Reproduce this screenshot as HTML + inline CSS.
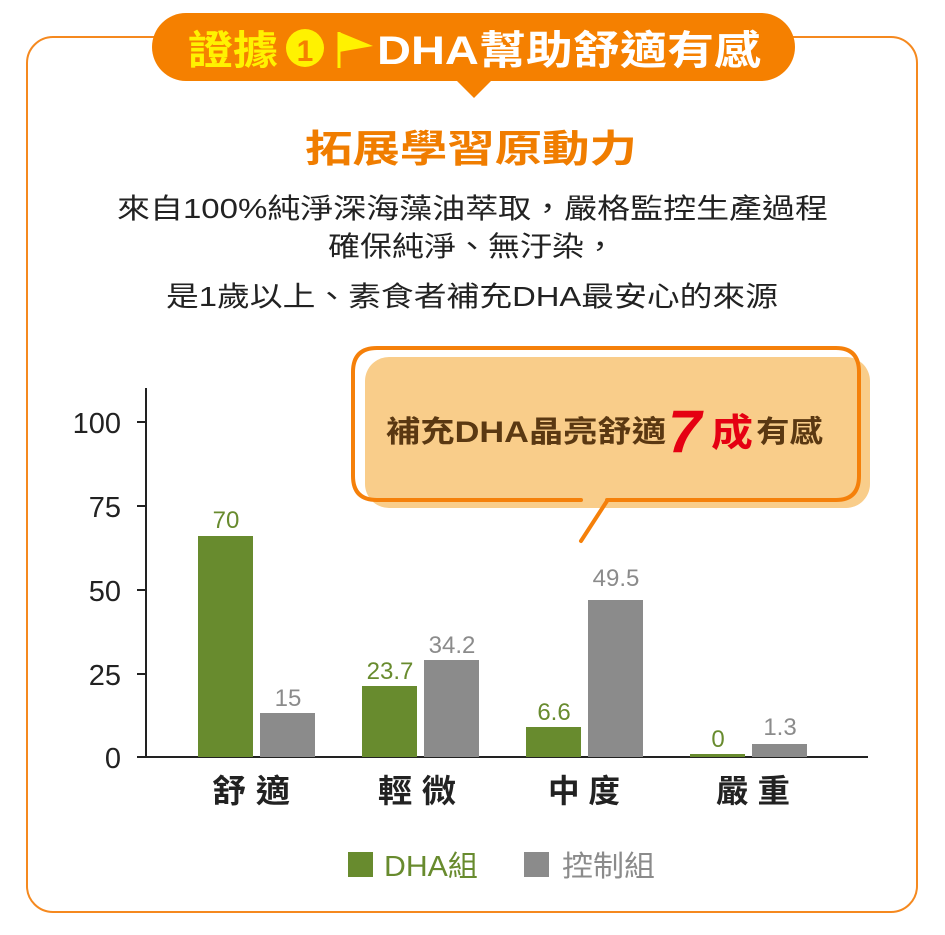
<!DOCTYPE html><html><head><meta charset="utf-8"><style>
body{margin:0;background:#fff}
svg text{font-family:"Liberation Sans","Noto Sans CJK TC",sans-serif}
</style></head><body>
<svg width="945" height="930" viewBox="0 0 945 930" xmlns="http://www.w3.org/2000/svg">
<rect x="27" y="37" width="890" height="875" rx="26" fill="#fff" stroke="#f5891f" stroke-width="2"/>
<rect x="152" y="13" width="643" height="68" rx="34" fill="#f58000"/>
<polygon points="456,80 492,80 474,98" fill="#f58000"/>
<text x="188" y="64" font-size="40" font-weight="bold" fill="#fff200" textLength="90" lengthAdjust="spacingAndGlyphs">證據</text>
<circle cx="305" cy="48" r="19" fill="#fff200"/>
<text x="305" y="61" font-size="30" font-weight="bold" fill="#f58000" text-anchor="middle">1</text>
<line x1="339" y1="32" x2="339" y2="68" stroke="#fff200" stroke-width="3"/>
<polygon points="339,32 373,46 339,52" fill="#fff200"/>
<text x="377" y="64" font-size="40" font-weight="bold" fill="#fff" textLength="384" lengthAdjust="spacingAndGlyphs">DHA幫助舒適有感</text>
<text x="305" y="162" font-size="38" font-weight="bold" fill="#f07d00" textLength="332" lengthAdjust="spacingAndGlyphs">拓展學習原動力</text>
<text x="117" y="218" font-size="28" fill="#222" textLength="711" lengthAdjust="spacingAndGlyphs">來自100%純淨深海藻油萃取，嚴格監控生產過程</text>
<text x="328" y="256" font-size="28" fill="#222" textLength="288" lengthAdjust="spacingAndGlyphs">確保純淨、無汙染，</text>
<text x="166" y="306" font-size="28" fill="#222" textLength="612" lengthAdjust="spacingAndGlyphs">是1歲以上、素食者補充DHA最安心的來源</text>
<rect x="365" y="357" width="505" height="151" rx="24" fill="#f9cd8a"/>
<path d="M581,500 L377,500 Q353,500 353,476 L353,372 Q353,348 377,348 L836,348 Q859,348 859,372 L859,476 Q859,500 836,500 L607,500" fill="none" stroke="#f5800a" stroke-width="4" stroke-linecap="round"/>
<line x1="607" y1="501" x2="581" y2="541" stroke="#f5800a" stroke-width="4" stroke-linecap="round"/>
<text x="386" y="442" font-size="30" fill="#5a3812" font-weight="bold" textLength="280" lengthAdjust="spacingAndGlyphs">補充DHA晶亮舒適</text>
<text x="668" y="452" font-size="60" fill="#e50012" font-weight="bold" font-style="italic">7</text>
<text x="711" y="446" font-size="38" fill="#e50012" font-weight="bold" textLength="42" lengthAdjust="spacingAndGlyphs">成</text>
<text x="756" y="442" font-size="30" fill="#5a3812" font-weight="bold" textLength="67" lengthAdjust="spacingAndGlyphs">有感</text>
<line x1="146" y1="388" x2="146" y2="758" stroke="#222" stroke-width="2"/>
<line x1="145" y1="757" x2="868" y2="757" stroke="#222" stroke-width="2"/>
<g stroke="#222" stroke-width="2"><line x1="137" y1="422" x2="146" y2="422"/><line x1="137" y1="506" x2="146" y2="506"/><line x1="137" y1="590" x2="146" y2="590"/><line x1="137" y1="674" x2="146" y2="674"/><line x1="137" y1="757" x2="146" y2="757"/></g>
<g font-size="29" fill="#222" text-anchor="end"><text x="121" y="433">100</text><text x="121" y="517">75</text><text x="121" y="601">50</text><text x="121" y="685">25</text><text x="121" y="768">0</text></g>
<g fill="#688b2e"><rect x="198" y="536" width="55" height="221"/><rect x="362" y="686" width="55" height="71"/><rect x="526" y="727" width="55" height="30"/><rect x="690" y="754" width="55" height="3"/></g>
<g fill="#8b8b8b"><rect x="260" y="713" width="55" height="44"/><rect x="424" y="660" width="55" height="97"/><rect x="588" y="600" width="55" height="157"/><rect x="752" y="744" width="55" height="13"/></g>
<g font-size="24" text-anchor="middle"><text x="226" y="528" fill="#688b2e">70</text><text x="288" y="706" fill="#8b8b8b">15</text>
<text x="390" y="679" fill="#688b2e">23.7</text><text x="452" y="653" fill="#8b8b8b">34.2</text>
<text x="554" y="720" fill="#688b2e">6.6</text><text x="616" y="586" fill="#8b8b8b">49.5</text>
<text x="718" y="747" fill="#688b2e">0</text><text x="780" y="735" fill="#8b8b8b">1.3</text></g>
<g font-size="32" fill="#222" font-weight="bold"><text x="212" y="802" textLength="78" lengthAdjust="spacingAndGlyphs">舒 適</text><text x="378" y="802" textLength="78" lengthAdjust="spacingAndGlyphs">輕 微</text><text x="548" y="802" textLength="72" lengthAdjust="spacingAndGlyphs">中 度</text><text x="716" y="802" textLength="74" lengthAdjust="spacingAndGlyphs">嚴 重</text></g>
<rect x="348" y="852" width="25" height="25" fill="#688b2e"/><text x="384" y="876" font-size="29" fill="#688b2e" textLength="94" lengthAdjust="spacingAndGlyphs">DHA組</text>
<rect x="524" y="852" width="25" height="25" fill="#8b8b8b"/><text x="562" y="876" font-size="29" fill="#8b8b8b" textLength="93" lengthAdjust="spacingAndGlyphs">控制組</text>
</svg>
</body></html>
